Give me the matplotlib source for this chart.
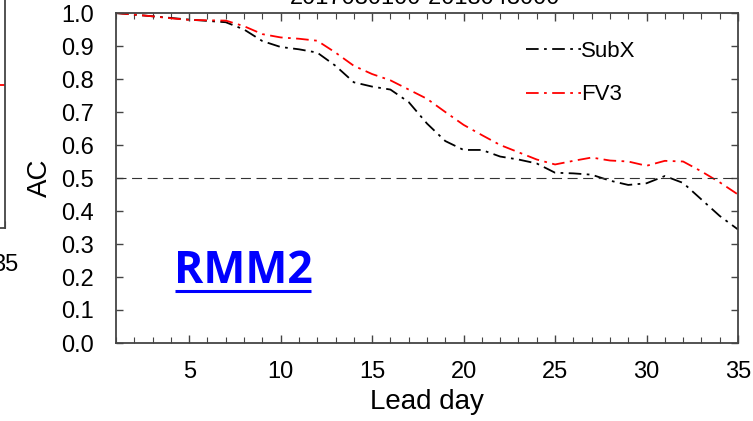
import matplotlib
matplotlib.use("Agg")
import matplotlib.pyplot as plt
import numpy as np

plt.rcParams['font.family'] = ['Liberation Sans', 'DejaVu Sans']

# lead days and anomaly correlation (RMM2)
lead_day = list(range(1, 36))
subx = [1.000, 0.995, 0.990, 0.985, 0.980, 0.976, 0.972, 0.950, 0.915, 0.897,
        0.890, 0.880, 0.840, 0.790, 0.777, 0.768, 0.730, 0.665, 0.612, 0.585,
        0.585, 0.565, 0.556, 0.544, 0.516, 0.514, 0.510, 0.492, 0.479, 0.484,
        0.506, 0.485, 0.435, 0.385, 0.344]
fv3 = [1.000, 0.995, 0.990, 0.984, 0.979, 0.978, 0.977, 0.960, 0.936, 0.926,
       0.922, 0.916, 0.880, 0.840, 0.815, 0.796, 0.768, 0.740, 0.700, 0.661,
       0.630, 0.600, 0.578, 0.556, 0.541, 0.552, 0.562, 0.553, 0.550, 0.537,
       0.552, 0.550, 0.520, 0.487, 0.450]
threshold = 0.5
x_ticks = [5, 10, 15, 20, 25, 30, 35]
y_ticks = [0.0, 0.1, 0.2, 0.3, 0.4, 0.5, 0.6, 0.7, 0.8, 0.9, 1.0]
title_str = "2017080100-2018043000"
panel_label = "RMM2"

# neighbouring panel that is cut off at the left edge
left_days = [34.0, 35.0]
left_red = [2.7, 2.7]

W, H = 753, 421
fig = plt.figure(figsize=(W / 100, H / 100), dpi=100)
spine_col = '#444444'
dash = (7, 3, 1.5, 3)

def px_axes(l, t, r, b):
    return fig.add_axes([l / W, 1 - b / H, (r - l) / W, (b - t) / H])

# cut-off left panel
ax0 = px_axes(-300, -100, 5, 228)
ax0.plot(left_days, left_red, color='red', lw=1.3, dashes=dash)
ax0.set_xlim(20, 35)
ax0.set_ylim(0, 328 / 53)
ax0.set_yticks([1, 2, 3, 4, 5])
ax0.set_yticklabels([])
ax0.set_xticks([35])
ax0.set_xticklabels(["35"])
ax0.tick_params(direction='in', length=5, color=spine_col, labelsize=17, pad=19)
for s in ax0.spines.values():
    s.set_color(spine_col)
    s.set_linewidth(1.3)

# main panel
ax = px_axes(116, 13, 738, 343)
ax.plot(lead_day, subx, color='black', lw=1.3, dashes=dash, label='SubX')
ax.plot(lead_day, fv3, color='red', lw=1.3, dashes=dash, label='FV3')
ax.axhline(threshold, color='#333333', lw=0.8, dashes=(9, 5))

ax.set_xlim(1, 35)
ax.set_ylim(0, 1)
ax.set_xticks(x_ticks)
ax.set_xticks(range(1, 36), minor=True)
ax.set_yticks(y_ticks)
ax.set_yticklabels(["%.1f" % v for v in y_ticks])
ax.tick_params(which='both', direction='in', top=True, right=True, color=spine_col)
ax.tick_params(which='major', length=6, width=1.0, labelsize=17)
ax.tick_params(which='minor', length=4, width=0.8)
ax.tick_params(axis='y', which='major', length=5, pad=16)
ax.tick_params(axis='x', which='major', pad=13)
for s in ax.spines.values():
    s.set_color(spine_col)
    s.set_linewidth(1.3)

ax.set_xlabel("Lead day", fontsize=20, labelpad=4)
ax.set_ylabel("AC", fontsize=20, labelpad=6)

leg = ax.legend(loc='upper right', bbox_to_anchor=(0.868, 0.975), frameon=False,
                fontsize=16, handlelength=2.5, handletextpad=0.0,
                labelspacing=1.0)

# partly clipped title at the very top
fig.text(425 / W, 1 - 4 / H, title_str, ha='center', va='baseline', fontsize=17)

# blue underlined panel label
ax.text(0.093, 0.182, panel_label, transform=ax.transAxes, color='#0000ff',
        fontsize=32, fontweight='bold', family=['Open Sans', 'DejaVu Sans'],
        ha='left', va='baseline')
ax.plot([0.095, 0.3135], [0.159, 0.159], transform=ax.transAxes, color='#0000ff',
        lw=2.2, solid_capstyle='butt', clip_on=False)

fig.savefig("out.png", dpi=100)
